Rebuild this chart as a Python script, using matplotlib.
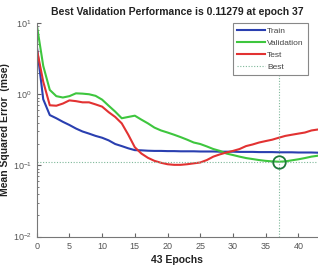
import matplotlib
matplotlib.use("Agg")
import matplotlib.pyplot as plt

plt.rcParams["font.family"] = ["Liberation Sans", "DejaVu Sans"]

epochs = list(range(44))
train = [4.9, 0.85, 0.51, 0.46, 0.41, 0.37, 0.33, 0.30, 0.28, 0.26, 0.245, 0.225,
         0.20, 0.187, 0.174, 0.164, 0.163, 0.161, 0.160, 0.160, 0.159, 0.159, 0.158,
         0.158, 0.158, 0.157, 0.157, 0.157, 0.156, 0.156, 0.156, 0.155, 0.155, 0.155,
         0.154, 0.154, 0.154, 0.153, 0.153, 0.153, 0.152, 0.152, 0.152, 0.151]
validation = [9.6, 2.5, 1.15, 0.94, 0.90, 0.94, 1.03, 1.02, 1.0, 0.95, 0.84, 0.69,
              0.57, 0.46, 0.48, 0.50, 0.44, 0.39, 0.34, 0.31, 0.29, 0.27, 0.25,
              0.23, 0.21, 0.20, 0.185, 0.17, 0.16, 0.147, 0.14, 0.133, 0.127, 0.123,
              0.119, 0.116, 0.114, 0.11279, 0.114, 0.118, 0.122, 0.127, 0.133, 0.137]
test = [4.4, 1.5, 0.70, 0.69, 0.74, 0.82, 0.80, 0.77, 0.77, 0.72, 0.67, 0.56,
        0.48, 0.39, 0.27, 0.18, 0.147, 0.128, 0.116, 0.109, 0.104, 0.102, 0.102,
        0.104, 0.107, 0.110, 0.119, 0.133, 0.143, 0.152, 0.16, 0.17, 0.187, 0.197,
        0.21, 0.22, 0.23, 0.245, 0.26, 0.27, 0.28, 0.29, 0.31, 0.32]
best_epoch = 37
best_perf = 0.11279

fig = plt.figure(figsize=(3.18, 2.68), dpi=100)
ax = fig.add_axes([0.1154, 0.117, 0.8846, 0.797])

ax.plot(epochs, train, color="#2a3fb0", lw=1.5, label="Train")
ax.plot(epochs, validation, color="#3ec63e", lw=1.5, label="Validation")
ax.plot(epochs, test, color="#e23232", lw=1.5, label="Test")
ax.axvline(best_epoch, color="#7fb89a", lw=0.8, ls=(0, (1, 1.5)))
ax.axhline(best_perf, color="#7fb89a", lw=0.8, ls=(0, (1, 1.5)), label="Best")
ax.plot([best_epoch], [best_perf], marker="o", ms=9, mfc="none", mec="#1f7a3a", mew=1.3)

ax.set_yscale("log")
ax.set_xlim(0, 43)
ax.set_ylim(0.01, 10)
ax.set_xticks(list(range(0, 41, 5)))
ax.set_yticks([0.01, 0.1, 1, 10])
ax.tick_params(which="both", direction="in", colors="#666666", labelsize=6.5,
               labelcolor="#555555")
ax.tick_params(which="major", length=3)
ax.tick_params(which="minor", length=1.5)
for side in ("top", "right"):
    ax.spines[side].set_visible(False)
for side in ("left", "bottom"):
    ax.spines[side].set_color("#777777")
    ax.spines[side].set_linewidth(0.8)

ax.set_title("Best Validation Performance is 0.11279 at epoch 37",
             fontsize=7.5, fontweight="bold", color="#222222", pad=6)
ax.set_xlabel("43 Epochs", fontsize=7.5, fontweight="bold", color="#222222", labelpad=3)
ax.set_ylabel("Mean Squared Error  (mse)", fontsize=7.5, fontweight="bold",
              color="#222222", labelpad=2)

leg = ax.legend(loc="upper right", bbox_to_anchor=(0.972, 1.01), fontsize=6,
                handlelength=3.4, handletextpad=0.25, labelspacing=0.5,
                borderpad=0.45, borderaxespad=0.3, fancybox=False, framealpha=1)
leg.get_frame().set_edgecolor("#888888")
leg.get_frame().set_linewidth(0.8)
for t in leg.get_texts():
    t.set_color("#444444")

fig.savefig("out.png", dpi=100)
